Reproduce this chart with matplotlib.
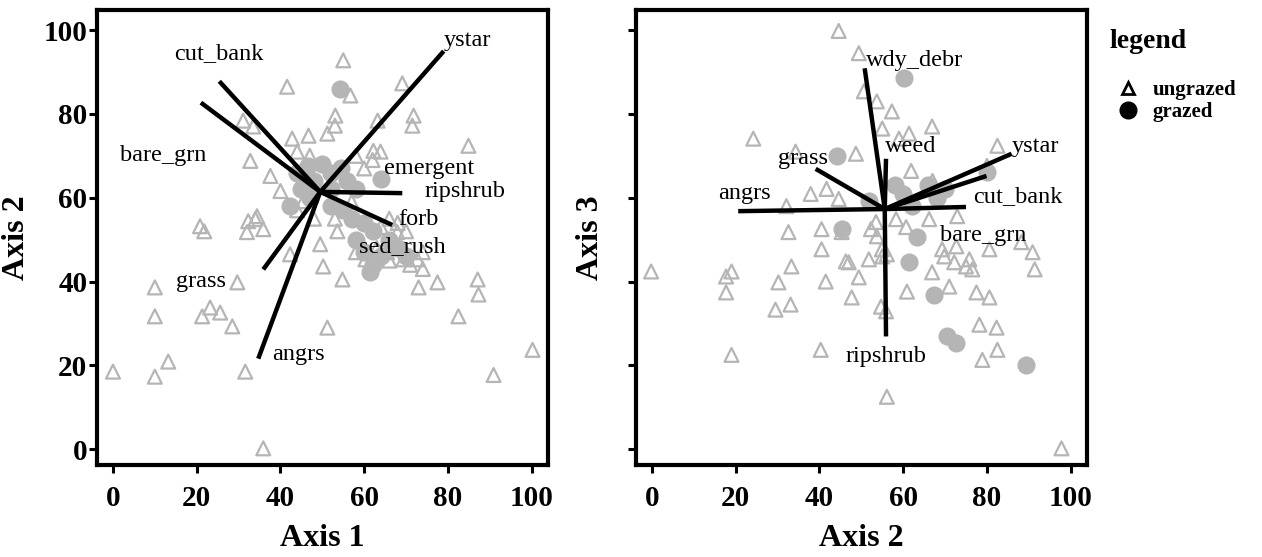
import matplotlib
matplotlib.use("Agg")
import matplotlib.pyplot as plt
from matplotlib.lines import Line2D

plt.rcParams['font.family'] = ['Liberation Serif', 'DejaVu Serif']

# ---- panel 1 (Axis 1 vs Axis 2) ----
p1_ungrazed_x = [55, 41.6, 56.7, 69.1, 53.1, 53, 51.2, 63.2, 71.8, 71.5, 31.1, 33.5, 42.8, 46.7, 84.9,
                 32.8, 37.6, 40, 20.8, 21.8, 32.3, 34.4, 34, 32, 35.9, 10, 29.7, 10, 21.3, 23.2, 25.6,
                 28.5, 0, 10, 13.2, 31.6, 35.9, 51.2, 49.5, 50.2, 42.3, 54.8, 73, 77.5, 87.1, 87.3,
                 82.5, 100.2, 90.9, 45.5, 53.6, 62.2, 63.9, 67.9, 65.5, 69.4, 72.7, 60.3, 58, 60, 62,
                 47, 44, 66, 64, 68, 70, 58, 63, 66, 71, 74, 74, 57, 44, 48, 53]
p1_ungrazed_y = [92.8, 86.5, 84.4, 87.3, 79.6, 77.2, 75.3, 78.4, 79.6, 77.2, 78.4, 77, 74.1, 74.8, 72.4,
                 68.8, 65.2, 61.6, 53.2, 52, 54.4, 55.6, 54.9, 51.8, 52.5, 38.6, 39.8, 31.7, 31.7, 33.8,
                 32.6, 29.3, 18.5, 17.3, 20.9, 18.5, 0.2, 29, 48.9, 43.6, 46.5, 40.5, 38.6, 39.8, 40.5,
                 36.9, 31.7, 23.7, 17.7, 59.2, 52, 71.2, 71, 51.8, 47, 45.3, 45.3, 45.3, 70, 67, 69,
                 70, 71, 55, 53, 54, 52, 47, 48, 45, 44, 43, 47, 59, 57, 55, 55]
p1_grazed_x = [54.3, 63.9, 42.3, 44, 46.5, 48, 50, 52, 54.5, 56, 58, 47, 52, 55, 57, 60, 62, 58, 60,
               62, 64, 66, 68, 70, 52, 45, 61.5]
p1_grazed_y = [86, 64.5, 58, 66, 67.5, 64, 68, 66, 67, 64, 62, 60, 58, 57, 55, 54, 52, 50, 47,
               44, 46, 50, 48, 46, 62, 62, 42.2]

p1_vars = ['ystar', 'cut_bank', 'bare_grn', 'emergent', 'ripshrub', 'forb', 'sed_rush', 'grass', 'angrs']
p1_center = (49.5, 61.4)
p1_end_x = [79, 25.4, 21, 49.5, 69.1, 66.7, 49.5, 35.9, 34.7]
p1_end_y = [95, 87.8, 82.7, 61.4, 61.1, 53.5, 61.4, 42.9, 21.6]
p1_lab_x = [84.7, 25.4, 12, 75.6, 84, 73, 69.1, 21, 44.3]
p1_lab_y = [97.6, 94.5, 70, 67.1, 61.4, 54.7, 48.4, 40, 22.5]

# ---- panel 2 (Axis 2 vs Axis 3) ----
p2_ungrazed_x = [44.6, 49.4, 50.6, 53.7, 57.3, 55, 66.9, 24.2, 34.3, 48.7, 61.4, 59, 82.5, 80, 37.9,
                 41.7, 32.1, 44.6, 32.6, 40.5, 45.3, 52.3, 58.3, -0.2, 17.7, 19, 17.7, 19, 30.2, 33.3,
                 29.5, 33.1, 40.5, 41.5, 40.3, 46.3, 47, 49.4, 47.7, 51.8, 54.7, 55.9, 54.9, 56.1,
                 56.1, 60.9, 66.9, 71, 69.3, 72.2, 75.8, 76.5, 75, 77.5, 80.6, 78.2, 82.3, 78.9, 82.5,
                 80.6, 90.9, 91.4, 97.8, 61.9, 60.7, 53.5, 53.7, 55, 72.9, 66.2, 72.7, 69.8, 67, 88.2]
p2_ungrazed_y = [99.8, 94.5, 85.4, 83, 80.6, 76.5, 77, 74.1, 71, 70.5, 75.3, 74.1, 72.4, 67.6, 60.9,
                 62.1, 58, 59.7, 51.8, 52.5, 51.8, 52.5, 54.9, 42.4, 41.2, 42.4, 37.4, 22.5, 39.8, 43.6,
                 33.3, 34.5, 47.7, 40, 23.7, 44.8, 44.6, 41, 36.2, 45.3, 34, 32.9, 47.7, 46.5,
                 12.5, 37.6, 42.2, 38.8, 47.7, 44.6, 45.3, 42.9, 43.6, 37.4, 36.2, 29.7, 29, 21.3, 23.7,
                 47.7, 47, 42.9, 0.2, 66.4, 53, 54.2, 50.8, 46, 55.6, 54.9, 48.4, 46, 64, 49.4]
p2_grazed_x = [60.2, 44.1, 80.1, 63.3, 61.4, 67.4, 70.5, 72.7, 89.4, 51.8, 58, 60, 66, 68, 70, 62, 45.5]
p2_grazed_y = [88.5, 70, 66.2, 50.6, 44.6, 36.9, 26.9, 25.4, 20.1, 59.2, 63, 61, 63, 60, 62, 58, 52.5]

p2_vars = ['wdy_debr', 'weed', 'grass', 'angrs', 'ystar', 'cut_bank', 'bare_grn', 'ripshrub']
p2_center = (55.6, 57.3)
p2_end_x = [50.8, 55.9, 39.1, 20.6, 85.9, 79.9, 75, 55.9]
p2_end_y = [90.9, 69.3, 66.9, 56.8, 70.5, 65.2, 57.8, 26.9]
p2_lab_x = [62.6, 61.9, 36, 22.1, 91.6, 87.3, 79.1, 55.9]
p2_lab_y = [92.8, 72.2, 69.3, 60.9, 72.2, 60.2, 51.1, 22.1]

ticks = [0, 20, 40, 60, 80, 100]
pt_col = '#b5b5b5'

fig = plt.figure(figsize=(12.62, 5.57), dpi=100)
ax1 = fig.add_axes([0.0769, 0.165, 0.357, 0.817])
ax2 = fig.add_axes([0.504, 0.165, 0.357, 0.817])


def draw_panel(ax, ux, uy, gx, gy, center, ex, ey, names, lx, ly):
    ax.scatter(ux, uy, s=100, marker='^', facecolors='none', edgecolors=pt_col, linewidths=1.6, zorder=2)
    ax.scatter(gx, gy, s=170, marker='o', color=pt_col, linewidths=0, zorder=2)
    for i in range(len(names)):
        ax.plot([center[0], ex[i]], [center[1], ey[i]], color='black', lw=3.2,
                solid_capstyle='butt', zorder=3)
        ax.text(lx[i], ly[i], names[i], fontsize=17.5, ha='center', va='center', zorder=4)
    ax.set_xlim(-3.8, 103.8)
    ax.set_ylim(-3.8, 104.8)
    ax.set_xticks(ticks)
    ax.set_yticks(ticks)
    for s in ax.spines.values():
        s.set_linewidth(3)
    ax.tick_params(width=2.2, length=6, labelsize=21, pad=8)
    for lab in ax.get_xticklabels() + ax.get_yticklabels():
        lab.set_fontweight('bold')


draw_panel(ax1, p1_ungrazed_x, p1_ungrazed_y, p1_grazed_x, p1_grazed_y, p1_center,
           p1_end_x, p1_end_y, p1_vars, p1_lab_x, p1_lab_y)
draw_panel(ax2, p2_ungrazed_x, p2_ungrazed_y, p2_grazed_x, p2_grazed_y, p2_center,
           p2_end_x, p2_end_y, p2_vars, p2_lab_x, p2_lab_y)
ax1.tick_params(axis='y', pad=1)
ax2.set_yticklabels([])

ax1.set_xlabel('Axis 1', fontsize=23, fontweight='bold', labelpad=9)
ax1.set_ylabel('Axis 2', fontsize=23, fontweight='bold', labelpad=9)
ax2.set_xlabel('Axis 2', fontsize=23, fontweight='bold', labelpad=9)
ax2.set_ylabel('Axis 3', fontsize=23, fontweight='bold', labelpad=8)

# legend: title as text, entries as a frameless legend below it
fig.text(0.879, 0.925, 'legend', fontsize=20, fontweight='bold', ha='left', va='center')
handles = [Line2D([], [], marker='^', ls='none', markerfacecolor='none', markeredgecolor='black',
                  markeredgewidth=2, markersize=8),
           Line2D([], [], marker='o', ls='none', color='black', markersize=12)]
fig.legend(handles, ['ungrazed', 'grazed'], loc='upper left', bbox_to_anchor=(0.877, 0.875),
           frameon=False, handlelength=1.0, handletextpad=0.7, labelspacing=0.1,
           borderpad=0, prop={'size': 15, 'weight': 'bold'})

fig.savefig('out.png', dpi=100)
